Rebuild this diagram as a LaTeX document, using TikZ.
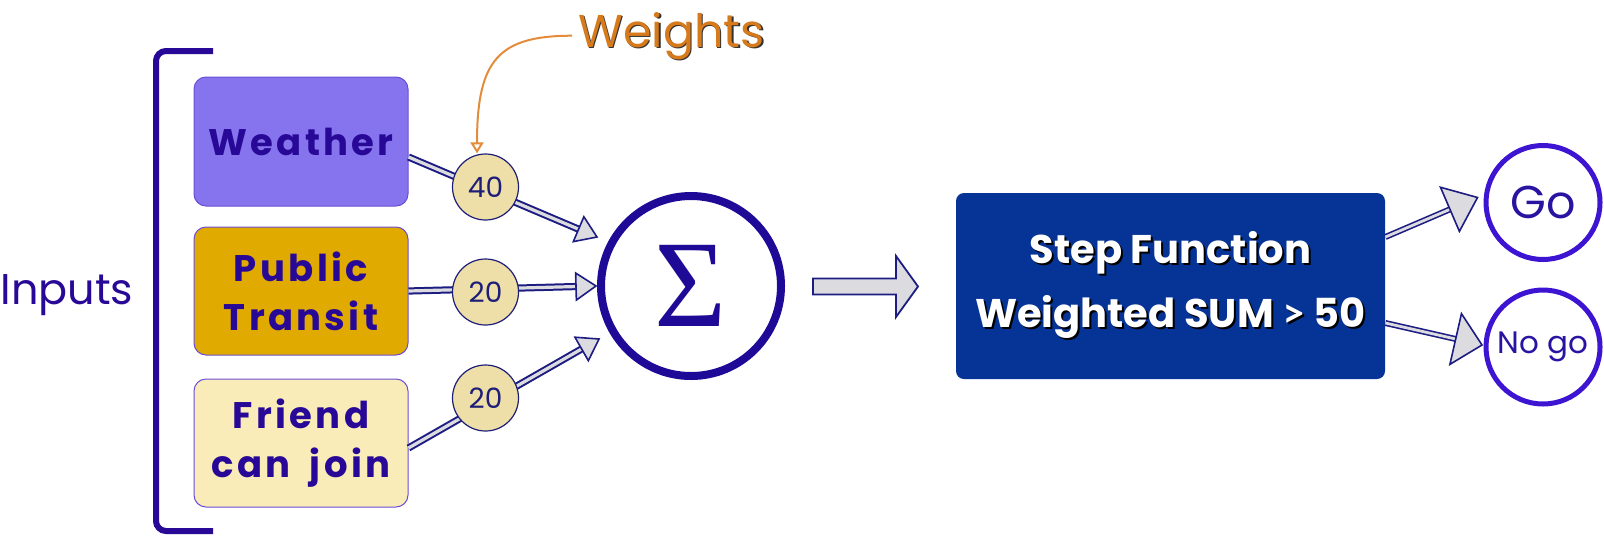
\documentclass[tikz,border=0pt]{standalone}
\usepackage{fontspec}
\setmainfont{Poppins}
\newfontfamily\boxfont{Poppins}[LetterSpace=9]
\newfontfamily\sigfont{Liberation Serif}
\newfontfamily\gtfont{Lato}
\usetikzlibrary{calc,arrows.meta}
\definecolor{ink}{RGB}{40,8,150}
\definecolor{navy}{RGB}{28,28,130}
\definecolor{arrfill}{RGB}{220,220,224}
\definecolor{weatherfill}{RGB}{133,116,237}
\definecolor{boxdraw}{RGB}{108,78,212}
\definecolor{transitfill}{RGB}{224,170,0}
\definecolor{friendfill}{RGB}{249,236,184}
\definecolor{wfill}{RGB}{238,223,168}
\definecolor{wdraw}{RGB}{30,30,120}
\definecolor{sumcol}{RGB}{30,10,150}
\definecolor{stepfill}{RGB}{6,52,150}
\definecolor{gocol}{RGB}{60,20,210}
\definecolor{gotext}{RGB}{40,20,160}
\definecolor{wtorange}{RGB}{214,122,28}
\definecolor{curveorange}{RGB}{226,140,60}
\newcommand\flowarrow[5]{% from, to, head length, head half width, shaft style
  \path (#2) coordinate (tmpT) ($(#2)!#3!(#1)$) coordinate (tmpB);
  \draw[#5] (#1) -- ($(tmpB)!1pt!(tmpT)$);
  \draw[headst] (tmpT) -- ($(tmpB)!#4!90:(tmpT)$) -- ($(tmpB)!#4!-90:(tmpT)$) -- cycle;
}
\begin{document}
\begin{tikzpicture}[x=0.5pt,y=-0.5pt,
  inbox/.style={draw=boxdraw, line width=0.5pt, rounded corners=6pt, minimum width=107pt,
    minimum height=64pt, inner sep=0pt, align=center, text=ink,
    font=\boxfont\bfseries\fontsize{18.5}{24.5}\selectfont},
  wcirc/.style={circle, draw=wdraw, fill=wfill, line width=0.6pt, minimum size=33pt, inner sep=0pt,
    text=wdraw, font=\fontsize{14}{14}\selectfont},
  outcirc/.style={circle, draw=gocol, line width=2.5pt, minimum size=57pt, inner sep=0pt, text=gotext},
  headst/.style={fill=arrfill, draw=navy, line width=0.8pt, line join=miter},
  inshaft/.style={draw=navy, line width=1pt, double=arrfill, double distance=1.6pt},
  outshaft/.style={draw=navy, line width=0.8pt, double=arrfill, double distance=1.4pt},
  steptext/.style={font=\bfseries\fontsize{20}{20}\selectfont, anchor=base}]
\useasboundingbox (0,0) rectangle (1604,536);

% bracket and label
\draw[ink, line width=3pt, rounded corners=5pt] (213,51) -- (156,51) -- (156,531) -- (213,531);
\node[text=ink, font=\fontsize{21.5}{21.5}\selectfont, anchor=base, inner sep=0pt] (inputs) at (67,304) {Inputs};

% input boxes
\node[inbox, fill=weatherfill, minimum height=64.5pt] (weather) at (301,141.5) {Weather};
\node[inbox, fill=transitfill] (transit) at (301,291) {Public\\Transit};
\node[inbox, fill=friendfill] (friend) at (301,443) {Friend\\can\hspace{4pt} join};

% summation
\node[circle, draw=sumcol, line width=4pt, minimum size=90pt, inner sep=0pt, text=sumcol,
  font=\sigfont\fontsize{62}{62}\selectfont] (sum) at (691,286) {Σ};

% input connectors
\coordinate (a1s) at ($(weather.east)+(0,15.5)$);
\coordinate (a2s) at (transit.east -| weather.east);
\coordinate (a3s) at ($(friend.east)+(0,5)$);
\coordinate (a1e) at ($(sum.center)+(-94,-49)$);
\coordinate (a2e) at ($(sum.west)+(-1,0)$);
\coordinate (a3e) at ($(sum.center)+(-92,53)$);
\flowarrow{a1s}{a1e}{10pt}{6.75pt}{inshaft}
\flowarrow{a2s}{a2e}{10pt}{6.75pt}{inshaft}
\flowarrow{a3s}{a3e}{10pt}{6.75pt}{inshaft}

% weights
\node[wcirc] (w1) at (485.5,187) {40};
\node[wcirc] (w2) at (485.5,292) {20};
\node[wcirc] (w3) at (485.5,398) {20};

% Weights label and pointer
\node[text=black!80, font=\fontsize{23}{23}\selectfont, anchor=base, inner sep=0pt] at (673,48.5) {Weights};
\node[text=wtorange, font=\fontsize{23}{23}\selectfont, anchor=base, inner sep=0pt] (weights) at (671.5,47) {Weights};
\coordinate (wstart) at ($(weights.west)+(-6,0)$);
\draw[curveorange, line width=1pt, -{Triangle[open, length=5.5pt, width=6.5pt]}]
  (wstart) .. controls ($(wstart)+(-74,0)$) and ($(w1.north)+(-8.5,-93)$) .. ($(w1.north)+(-8.5,0)$);

% step function
\node[fill=stepfill, rounded corners=4pt, minimum width=214.5pt, minimum height=93pt, inner sep=0pt] (step) at (1170.5,286) {};
\node[steptext, text=black] at ($(step.center)+(2,-21)$) {Step Function};
\node[steptext, text=white] (steptxt1) at ($(step.center)+(0,-23)$) {Step Function};
\node[steptext, text=black] at ($(step.center)+(2,43)$) {Weighted SUM {\gtfont >} 50};
\node[steptext, text=white] (steptxt2) at ($(step.center)+(0,41)$) {Weighted SUM {\gtfont >} 50};

% block arrow from sum to step
\coordinate (ba) at (813,286.5);
\draw[fill=arrfill, draw=navy, line width=0.9pt, line join=miter]
  ($(ba)+(0,-8)$) -- ($(ba)+(83,-8)$) -- ($(ba)+(83,-30.5)$) -- ($(ba)+(105,0)$)
  -- ($(ba)+(83,30.5)$) -- ($(ba)+(83,8)$) -- ($(ba)+(0,8)$) -- cycle;

% outputs
\node[outcirc, font=\fontsize{23}{23}\selectfont] (go) at (1543,202.5) {Go};
\node[outcirc, font=\fontsize{15.5}{15.5}\selectfont] (nogo) at (1543,347) {No go};
\coordinate (o1s) at ($(step.east)+(0,-49)$);
\coordinate (o2s) at ($(step.east)+(0,37)$);
\coordinate (o1e) at ($(go.west)+(-6,-5)$);
\coordinate (o2e) at ($(nogo.west)+(-1.5,-2)$);
\flowarrow{o1s}{o1e}{15pt}{12pt}{outshaft}
\flowarrow{o2s}{o2e}{13.5pt}{13pt}{outshaft}
\end{tikzpicture}
\end{document}
